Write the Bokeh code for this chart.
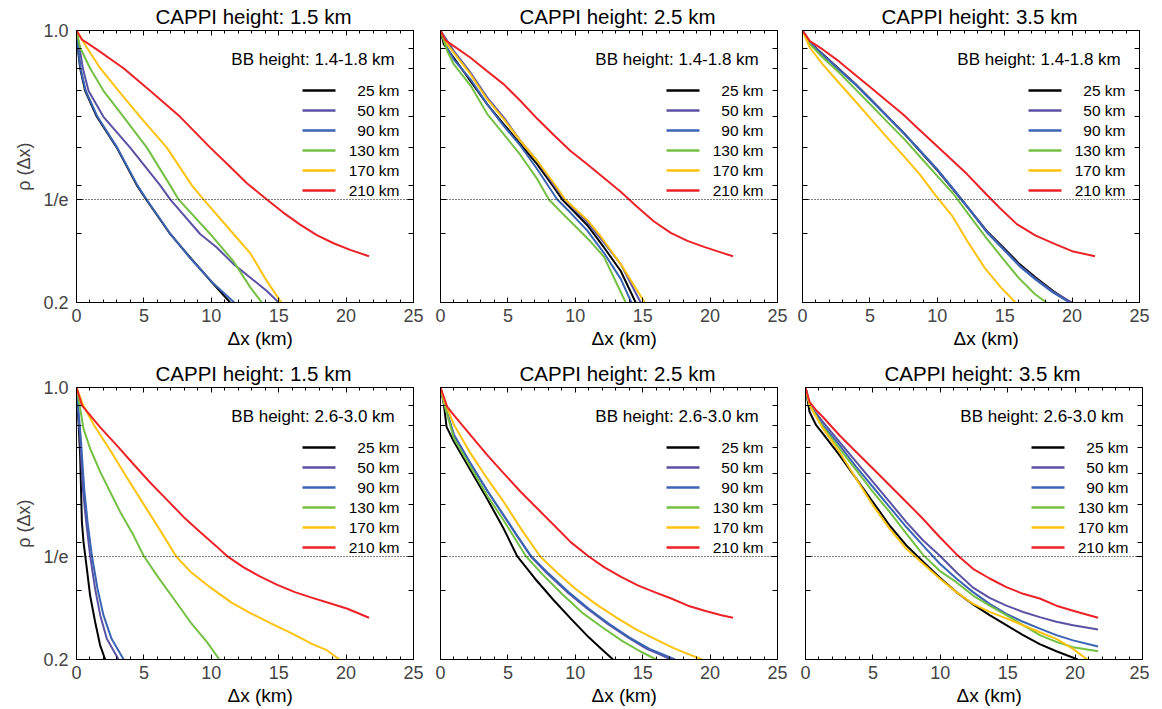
import math
from bokeh.plotting import figure
from bokeh.models import (FixedTicker, LinearAxis, LogAxis, Span, Range1d, Title,
                          CustomJSTickFormatter)
from bokeh.layouts import column, row
from bokeh.embed import file_html
from bokeh.resources import INLINE
from bokeh.core.properties import value

# ---------------- data ----------------
ranges = ["25 km", "50 km", "90 km", "130 km", "170 km", "210 km"]
cappi_titles = ["CAPPI height: 1.5 km", "CAPPI height: 2.5 km", "CAPPI height: 3.5 km"]
bb_labels = ["BB height: 1.4-1.8  km", "BB height: 2.6-3.0  km"]
x_ticks = [0, 5, 10, 15, 20, 25]
y_ticks = [0.2, math.exp(-1), 1.0]
y_minor = [0.3, 0.4, 0.5, 0.6, 0.7, 0.8, 0.9]

# Row 1 (BB 1.4-1.8 km), CAPPI 1.5 km
a1_25_x = [0, 0.1, 0.27, 0.64, 1.51, 2.99, 4.48, 5.17, 6.95, 8.43, 10.16, 11.4]
a1_25_y = [1.0, 0.9, 0.8, 0.7, 0.6, 0.5, 0.4, 0.368, 0.3, 0.261, 0.223, 0.2]
a1_50_x = [0, 0.27, 0.47, 0.89, 2.0, 3.98, 6.21, 6.95, 9.17, 10.41, 11.65, 12.88, 14.12, 15.0]
a1_50_y = [1.0, 0.885, 0.8, 0.7, 0.6, 0.5, 0.4, 0.368, 0.3, 0.277, 0.251, 0.232, 0.214, 0.2]
a1_90_x = [0, 0.12, 0.3, 0.68, 1.56, 3.02, 4.52, 5.2, 6.97, 8.4, 10.2, 11.7]
a1_90_y = [1.0, 0.9, 0.8, 0.7, 0.6, 0.5, 0.4, 0.368, 0.3, 0.261, 0.223, 0.2]
a1_130_x = [0, 0.27, 1.01, 2.0, 3.49, 5.22, 6.95, 7.57, 9.92, 11.65, 12.88, 13.75]
a1_130_y = [1.0, 0.903, 0.8, 0.7, 0.6, 0.5, 0.4, 0.368, 0.3, 0.255, 0.219, 0.2]
a1_170_x = [0, 0.77, 1.76, 3.12, 4.72, 6.70, 8.56, 9.42, 11.65, 12.88, 14.12, 15.2]
a1_170_y = [1.0, 0.903, 0.8, 0.7, 0.6, 0.5, 0.4, 0.368, 0.3, 0.268, 0.227, 0.2]
a1_210_x = [0, 0.4, 1.5, 3.49, 5.46, 7.69, 9.92, 11.3, 12.64, 14.12, 15.36, 16.59, 17.83, 19.07, 20.3, 21.7]
a1_210_y = [1.0, 0.948, 0.894, 0.8, 0.7, 0.6, 0.5, 0.45, 0.405, 0.368, 0.340, 0.317, 0.298, 0.284, 0.273, 0.263]

# Row 1, CAPPI 2.5 km
a2_25_x = [0, 0.25, 0.99, 2.23, 3.47, 4.70, 5.94, 7.18, 8.42, 9.03, 9.65, 10.89, 12.13, 13.37, 14.48]
a2_25_y = [1.0, 0.921, 0.851, 0.741, 0.646, 0.574, 0.510, 0.453, 0.395, 0.368, 0.350, 0.316, 0.277, 0.241, 0.2]
a2_50_x = [0, 0.99, 2.23, 3.47, 4.70, 5.94, 7.18, 8.42, 9.2, 9.65, 10.89, 12.13, 13.37, 14.85]
a2_50_y = [1.0, 0.885, 0.779, 0.672, 0.597, 0.520, 0.462, 0.400, 0.368, 0.355, 0.322, 0.285, 0.251, 0.2]
a2_90_x = [0, 0.5, 0.99, 2.23, 3.47, 4.70, 5.94, 7.18, 8.66, 9.65, 10.89, 12.13, 13.37, 14.16]
a2_90_y = [1.0, 0.903, 0.842, 0.749, 0.646, 0.568, 0.505, 0.440, 0.368, 0.340, 0.306, 0.268, 0.230, 0.2]
a2_130_x = [0, 0.5, 0.99, 2.23, 3.47, 4.70, 5.94, 7.18, 8.04, 9.0, 10.0, 11.0, 12.13, 13.74]
a2_130_y = [1.0, 0.885, 0.818, 0.722, 0.610, 0.541, 0.478, 0.415, 0.368, 0.340, 0.314, 0.290, 0.262, 0.2]
a2_170_x = [0, 0.5, 0.99, 2.23, 3.47, 4.70, 5.94, 7.18, 8.42, 9.25, 10.89, 11.88, 13.37, 15.15]
a2_170_y = [1.0, 0.921, 0.876, 0.771, 0.665, 0.591, 0.520, 0.462, 0.405, 0.368, 0.326, 0.296, 0.251, 0.2]
a2_210_x = [0, 0.37, 0.99, 2.23, 3.47, 4.70, 5.94, 7.18, 8.42, 9.65, 10.89, 12.13, 13.37, 14.60,
            15.84, 17.08, 18.32, 19.55, 20.79, 21.7]
a2_210_y = [1.0, 0.943, 0.912, 0.851, 0.786, 0.727, 0.659, 0.593, 0.538, 0.490, 0.453, 0.418, 0.385, 0.352,
            0.323, 0.302, 0.288, 0.278, 0.269, 0.263]

# Row 1, CAPPI 3.5 km
a3_25_x = [0, 0.56, 1.53, 2.75, 3.96, 5.18, 6.39, 7.6, 8.83, 10.04, 11.26, 12.47, 13.68, 14.9, 16.1, 17.3, 18.6, 19.9]
a3_25_y = [1.0, 0.930, 0.868, 0.794, 0.727, 0.659, 0.597, 0.541, 0.485, 0.436, 0.387, 0.344, 0.305, 0.277, 0.251, 0.232, 0.214, 0.2]
a3_50_x = [0, 0.56, 1.53, 2.75, 3.96, 5.18, 6.39, 7.6, 8.83, 10.04, 11.26, 12.47, 13.68, 14.9, 16.1, 17.3, 18.6, 20.0]
a3_50_y = [1.0, 0.929, 0.866, 0.792, 0.725, 0.658, 0.597, 0.541, 0.486, 0.437, 0.388, 0.344, 0.304, 0.275, 0.249, 0.230, 0.213, 0.2]
a3_90_x = [0, 0.56, 1.53, 2.75, 3.96, 5.18, 6.39, 7.6, 8.83, 10.04, 11.26, 12.47, 13.68, 14.9, 16.1, 17.3, 18.6, 19.8]
a3_90_y = [1.0, 0.928, 0.864, 0.790, 0.724, 0.657, 0.597, 0.541, 0.487, 0.438, 0.389, 0.344, 0.303, 0.274, 0.248, 0.229, 0.212, 0.2]
a3_130_x = [0, 0.56, 1.52, 2.73, 3.94, 5.15, 6.36, 7.57, 8.78, 9.99, 11.2, 12.4, 13.6, 14.8, 16.0, 17.25, 18.1]
a3_130_y = [1.0, 0.921, 0.851, 0.779, 0.706, 0.640, 0.579, 0.525, 0.471, 0.423, 0.380, 0.334, 0.294, 0.261, 0.232, 0.210, 0.2]
a3_170_x = [0, 0.55, 1.5, 2.7, 3.9, 5.1, 6.3, 7.5, 8.7, 9.9, 11.1, 12.3, 13.5, 14.7, 15.8]
a3_170_y = [1.0, 0.903, 0.818, 0.734, 0.659, 0.591, 0.530, 0.476, 0.427, 0.376, 0.334, 0.285, 0.246, 0.219, 0.2]
a3_210_x = [0, 0.55, 1.5, 2.69, 3.88, 5.08, 6.26, 7.45, 8.65, 9.83, 11.03, 12.22, 13.40, 14.6, 15.9,
            17.3, 18.7, 20.0, 21.7]
a3_210_y = [1.0, 0.939, 0.894, 0.834, 0.771, 0.713, 0.659, 0.609, 0.557, 0.510, 0.467, 0.427, 0.387, 0.351, 0.318,
            0.297, 0.283, 0.271, 0.263]

# Row 2 (BB 2.6-3.0 km), CAPPI 1.5 km
b1_25_x = [0, 0.15, 0.27, 0.40, 0.52, 0.77, 1.01, 1.38, 1.76, 2.13]
b1_25_y = [1.0, 0.816, 0.670, 0.451, 0.401, 0.342, 0.292, 0.250, 0.217, 0.2]
b1_50_x = [0, 0.27, 0.47, 0.72, 1.01, 1.38, 1.76, 2.25, 3.12]
b1_50_y = [1.0, 0.739, 0.550, 0.451, 0.370, 0.304, 0.260, 0.226, 0.2]
b1_90_x = [0, 0.32, 0.57, 0.82, 1.14, 1.56, 2.0, 2.6, 3.5]
b1_90_y = [1.0, 0.739, 0.550, 0.451, 0.370, 0.304, 0.260, 0.226, 0.2]
b1_130_x = [0, 0.27, 0.52, 1.01, 1.76, 2.50, 3.24, 4.23, 4.97, 5.96, 7.20, 8.43, 9.67, 10.6]
b1_130_y = [1.0, 0.883, 0.784, 0.697, 0.607, 0.539, 0.479, 0.417, 0.370, 0.329, 0.287, 0.250, 0.222, 0.2]
b1_170_x = [0, 0.5, 1.3, 2.5, 3.7, 5.0, 6.2, 7.4, 8.5, 10.0, 11.5, 13.0, 14.5, 16.0, 17.5, 18.6, 19.5]
b1_170_y = [1.0, 0.90, 0.80, 0.69, 0.59, 0.50, 0.43, 0.368, 0.335, 0.305, 0.280, 0.262, 0.247, 0.233, 0.219, 0.211, 0.2]
b1_210_x = [0, 0.4, 1.76, 2.99, 4.23, 5.46, 6.70, 7.94, 9.17, 10.41, 11.2, 12.4, 13.6, 14.9, 16.2, 17.5,
            18.8, 20.1, 21.7]
b1_210_y = [1.0, 0.90, 0.79, 0.71, 0.635, 0.57, 0.515, 0.465, 0.425, 0.39, 0.368, 0.345, 0.327, 0.311, 0.298, 0.288,
            0.279, 0.27, 0.256]

# Row 2, CAPPI 2.5 km
b2_25_x = [0, 0.25, 0.45, 0.99, 2.23, 3.47, 4.71, 5.7, 7.0, 8.4, 9.7, 11.0, 12.0, 12.8]
b2_25_y = [1.0, 0.905, 0.792, 0.726, 0.613, 0.517, 0.432, 0.368, 0.323, 0.284, 0.254, 0.228, 0.212, 0.2]
b2_50_x = [0, 0.3, 0.99, 2.23, 3.47, 4.71, 5.7, 6.7, 7.9, 9.4, 10.9, 12.4, 13.9, 15.3, 16.3, 17.1]
b2_50_y = [1.0, 0.905, 0.756, 0.638, 0.543, 0.468, 0.415, 0.368, 0.333, 0.298, 0.270, 0.247, 0.228, 0.213, 0.206, 0.2]
b2_90_x = [0, 0.3, 0.99, 2.23, 3.47, 4.71, 5.7, 6.75, 8.0, 9.5, 11.0, 12.5, 14.0, 15.5, 16.5, 17.4]
b2_90_y = [1.0, 0.905, 0.756, 0.638, 0.543, 0.468, 0.415, 0.368, 0.333, 0.298, 0.270, 0.247, 0.228, 0.213, 0.206, 0.2]
b2_130_x = [0, 0.3, 0.99, 2.23, 3.47, 4.71, 6.35, 7.6, 9.0, 10.5, 12.0, 13.5, 14.8, 16.0]
b2_130_y = [1.0, 0.90, 0.741, 0.625, 0.527, 0.454, 0.368, 0.330, 0.295, 0.264, 0.242, 0.223, 0.210, 0.2]
b2_170_x = [0, 0.3, 0.99, 2.23, 3.47, 4.71, 6.0, 7.4, 8.7, 10.0, 11.5, 13.0, 14.5, 16.0, 17.3, 18.3, 19.4]
b2_170_y = [1.0, 0.919, 0.803, 0.677, 0.583, 0.507, 0.432, 0.368, 0.333, 0.304, 0.278, 0.257, 0.239, 0.225, 0.214, 0.207, 0.2]
b2_210_x = [0, 0.5, 0.99, 2.23, 3.47, 4.71, 5.96, 7.20, 8.44, 9.68, 11.0, 12.16, 13.40, 14.64, 15.88,
            17.12, 18.36, 19.60, 20.84, 21.7]
b2_210_y = [1.0, 0.892, 0.849, 0.754, 0.670, 0.601, 0.539, 0.488, 0.442, 0.400, 0.368, 0.345, 0.326, 0.310, 0.298,
            0.287, 0.275, 0.267, 0.260, 0.256]

# Row 2, CAPPI 3.5 km
b3_25_x = [0, 0.30, 0.79, 1.29, 2.52, 3.76, 5.0, 6.24, 7.48, 8.71, 9.95, 11.19, 12.43, 13.66, 14.90, 16.14,
           17.38, 18.61, 20.2]
b3_25_y = [1.0, 0.866, 0.800, 0.761, 0.670, 0.583, 0.508, 0.442, 0.393, 0.357, 0.325, 0.298, 0.277, 0.260, 0.245,
           0.231, 0.219, 0.210, 0.2]
b3_50_x = [0, 0.30, 1.29, 2.52, 3.76, 5.0, 6.24, 7.48, 8.71, 9.95, 11.19, 12.43, 13.66, 14.90, 16.14, 17.38,
           18.61, 19.85, 21.7]
b3_50_y = [1.0, 0.901, 0.816, 0.725, 0.644, 0.572, 0.508, 0.451, 0.405, 0.370, 0.335, 0.306, 0.288, 0.275, 0.265,
           0.257, 0.250, 0.245, 0.239]
b3_90_x = [0, 0.30, 1.29, 2.52, 3.76, 5.0, 6.24, 7.48, 8.71, 9.95, 11.19, 12.43, 13.66, 14.90, 16.14, 17.38,
           18.61, 19.85, 21.7]
b3_90_y = [1.0, 0.901, 0.800, 0.711, 0.625, 0.555, 0.493, 0.438, 0.393, 0.353, 0.323, 0.298, 0.278, 0.262, 0.250,
           0.240, 0.231, 0.224, 0.216]
b3_130_x = [0, 0.30, 1.29, 2.52, 3.76, 5.0, 6.24, 7.48, 8.71, 9.95, 11.19, 12.43, 13.66, 14.90, 16.14, 17.38,
            18.61, 19.85, 21.7]
b3_130_y = [1.0, 0.901, 0.792, 0.697, 0.613, 0.539, 0.479, 0.421, 0.372, 0.338, 0.316, 0.292, 0.275, 0.260, 0.245,
            0.231, 0.222, 0.215, 0.210]
b3_170_x = [0, 0.30, 1.29, 2.52, 3.76, 5.0, 6.24, 7.48, 8.71, 9.95, 11.19, 12.43, 13.66, 14.90, 16.14, 17.38,
            18.61, 19.85, 20.9]
b3_170_y = [1.0, 0.901, 0.784, 0.683, 0.583, 0.498, 0.434, 0.385, 0.353, 0.323, 0.298, 0.278, 0.265, 0.255, 0.245,
            0.235, 0.226, 0.213, 0.2]
b3_210_x = [0, 0.30, 0.79, 1.29, 2.52, 3.76, 5.0, 6.24, 7.48, 8.71, 9.95, 11.19, 12.43, 13.66, 14.90, 16.14,
            17.38, 18.61, 19.85, 21.7]
b3_210_y = [1.0, 0.919, 0.874, 0.840, 0.754, 0.683, 0.619, 0.561, 0.508, 0.460, 0.413, 0.373, 0.342, 0.323, 0.307,
            0.295, 0.287, 0.275, 0.267, 0.256]

# ---------------- styling ----------------
FONT = "Liberation Sans"
COLORS = ["#000000", "#5a52a4", "#3c64b4", "#74c043", "#fec20f", "#ec2227"]
FRAME_W, FRAME_H = 337, 272
X_MAX = 25.0
Y_MIN, Y_MAX = 0.2, 1.0


def x_from_px(px):
    """x data value at a horizontal pixel offset from the frame's left edge"""
    return px * X_MAX / FRAME_W


def y_from_px(px):
    """y data value (log axis) at a vertical pixel offset from the frame's top edge"""
    return Y_MAX * (Y_MIN / Y_MAX) ** (px / FRAME_H)


empty_fmt = CustomJSTickFormatter(code="return '';")
y_fmt = CustomJSTickFormatter(code="""
if (Math.abs(tick - 1.0) < 1e-6) { return '1.0'; }
if (Math.abs(tick - 0.2) < 1e-6) { return '0.2'; }
return '1/e';
""")


def style_axis(ax, labels, major_in, minor_in):
    ax.axis_line_color = "black"
    ax.axis_line_width = 1
    ax.major_tick_line_color = "black"
    ax.minor_tick_line_color = "black"
    ax.major_tick_in = major_in
    ax.major_tick_out = 0
    ax.minor_tick_in = minor_in
    ax.minor_tick_out = 0
    if not labels:
        ax.formatter = empty_fmt
        ax.major_label_standoff = 0


def make_panel(title, bb, curves, left, right, top, bottom, show_y):
    p = figure(frame_width=FRAME_W, frame_height=FRAME_H,
               x_range=Range1d(0, X_MAX), y_range=Range1d(Y_MIN, Y_MAX),
               y_axis_type="log", output_backend="svg", toolbar_location=None,
               min_border_left=left, min_border_right=right,
               min_border_top=top, min_border_bottom=bottom)
    p.grid.visible = False
    p.outline_line_color = "black"
    p.outline_line_width = 1
    p.background_fill_color = "white"
    p.border_fill_color = "white"

    # title
    p.title.text = title
    p.title.align = "left"
    p.title.offset = 79
    p.title.text_font = FONT
    p.title.text_font_size = "20.5px"
    p.title.text_font_style = "normal"
    p.title.text_color = "black"
    p.title.standoff = 5

    xt = FixedTicker(ticks=x_ticks, minor_ticks=list(range(0, 26)))
    yt = FixedTicker(ticks=y_ticks, minor_ticks=y_minor)

    # bottom x axis (ticks + numbers)
    xa = p.xaxis[0]
    xa.ticker = xt
    style_axis(xa, True, 5, 3)
    xa.major_label_text_font = FONT
    xa.major_label_text_font_size = "18px"
    xa.major_label_standoff = 6

    # x axis title, a little right of the frame centre as in the original
    p.add_layout(Title(text="\u0394x (km)", align="left", offset=151,
                       text_font=FONT, text_font_size="19px", text_font_style="normal",
                       text_color="black", standoff=2), "below")

    # left y axis
    ya = p.yaxis[0]
    ya.ticker = yt
    style_axis(ya, show_y, 6, 5)
    if show_y:
        ya.formatter = y_fmt
        ya.major_label_text_font = FONT
        ya.major_label_text_font_size = "18px"
        ya.major_label_standoff = 8
        ya.axis_label = "\u03c1 (\u0394x)"
        ya.axis_label_text_font = FONT
        ya.axis_label_text_font_size = "18px"
        ya.axis_label_text_font_style = "normal"
        ya.axis_label_standoff = 6

    # top and right axes: ticks only
    top_ax = LinearAxis(ticker=xt)
    style_axis(top_ax, False, 5, 3)
    p.add_layout(top_ax, "above")
    right_ax = LogAxis(ticker=yt)
    style_axis(right_ax, False, 6, 5)
    p.add_layout(right_ax, "right")

    # 1/e reference
    p.add_layout(Span(location=math.exp(-1), dimension="width", line_color="black",
                      line_width=1, line_dash="1 2"))

    # curves
    for (xs, ys), c in zip(curves, COLORS):
        p.line(xs, ys, line_color=c, line_width=2, line_join="round")

    # legend (drawn inside the frame, upper right)
    right_edge = x_from_px(FRAME_W - 14)
    p.text(x=[right_edge], y=[y_from_px(29)], text=[bb], text_align="right",
           text_baseline="middle", text_font=value(FONT), text_font_size="17px",
           text_color="black")
    rows_y = [y_from_px(60 + 20 * i) for i in range(len(ranges))]
    p.segment(x0=[x_from_px(FRAME_W - 111)] * len(ranges), y0=rows_y,
              x1=[x_from_px(FRAME_W - 78)] * len(ranges), y1=rows_y,
              line_color=COLORS, line_width=2.5)
    p.text(x=[right_edge] * len(ranges), y=rows_y, text=ranges, text_align="right",
           text_baseline="middle", text_font=value(FONT), text_font_size="15.5px",
           text_color="black")
    return p


def curves_of(prefix):
    g = globals()
    keys = ["25", "50", "90", "130", "170", "210"]
    return [(g[f"{prefix}_{k}_x"], g[f"{prefix}_{k}_y"]) for k in keys]


f1 = make_panel(cappi_titles[0], bb_labels[0], curves_of("a1"), 76, 13, 30, 50, True)
f2 = make_panel(cappi_titles[1], bb_labels[0], curves_of("a2"), 14, 12, 30, 50, False)
f3 = make_panel(cappi_titles[2], bb_labels[0], curves_of("a3"), 13, 10, 30, 50, False)
f4 = make_panel(cappi_titles[0], bb_labels[1], curves_of("b1"), 76, 13, 35, 50, True)
f5 = make_panel(cappi_titles[1], bb_labels[1], curves_of("b2"), 14, 12, 35, 50, False)
f6 = make_panel(cappi_titles[2], bb_labels[1], curves_of("b3"), 16, 7, 35, 50, False)

layout = column(row(f1, f2, f3), row(f4, f5, f6))
open("out.html", "w").write(file_html(layout, INLINE))
